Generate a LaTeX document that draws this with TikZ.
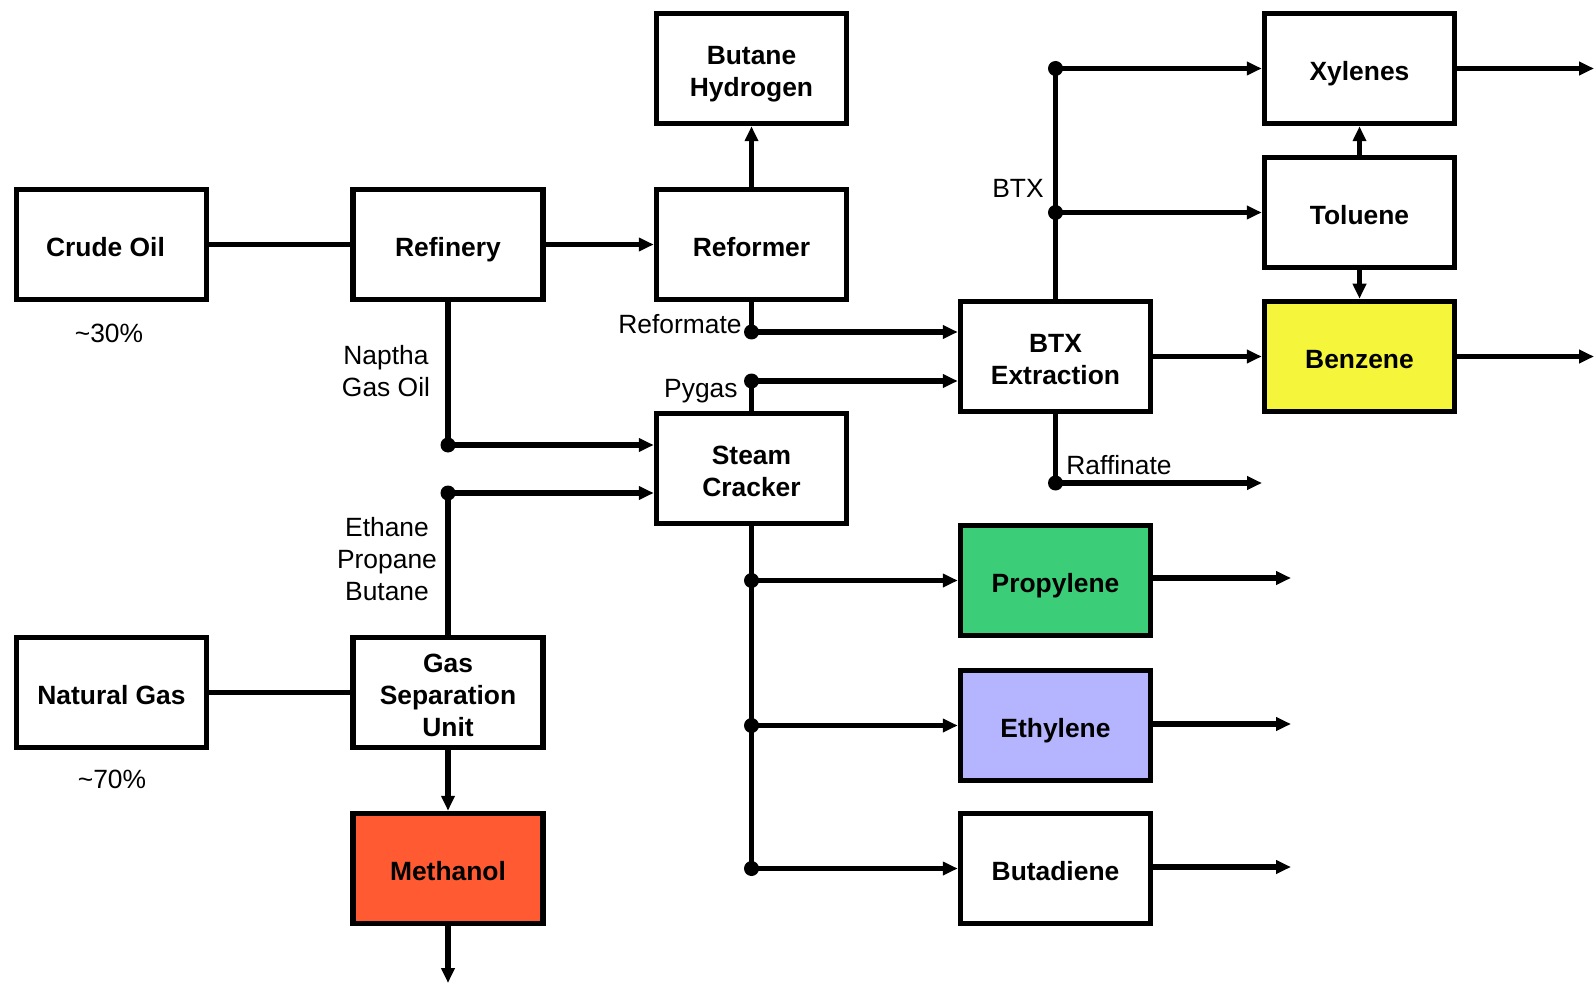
\documentclass[tikz,border=0pt]{standalone}
\usepackage{fontspec}
\setmainfont{Liberation Sans}
\usetikzlibrary{arrows.meta}
\definecolor{benzfill}{RGB}{245,245,60}
\definecolor{propfill}{RGB}{60,205,120}
\definecolor{ethfill}{RGB}{180,180,255}
\definecolor{methfill}{RGB}{255,90,50}
\newcommand{\toprl}{\rule{0pt}{15pt}}
\newcommand{\botrl}{\rule[-3pt]{0pt}{3pt}}
\begin{document}
\begin{tikzpicture}[x=0.5pt,y=-0.5pt,
  box/.style={draw, line width=2.75pt, minimum width=95pt, minimum height=55pt, align=center,
    font=\fontsize{13.2}{16}\selectfont\bfseries, inner sep=0pt},
  lbl/.style={font=\fontsize{13.2}{16}\selectfont, align=center, inner sep=0pt},
  conn/.style={line width=2.75pt},
  arr/.style={conn, -{Triangle[length=7.5pt,width=6.5pt]}},
  dot/.style={circle, fill, inner sep=0pt, minimum size=7.5pt}
]
\useasboundingbox (0,0) rectangle (1596,984);

% boxes
\node[box] (crude) at (111.5,244.5) {\toprl Crude Oil\hspace{6pt}\botrl};
\node[box] (refinery) at (448,244.5) {\toprl Refinery\botrl};
\node[box] (reformer) at (751.5,244.5) {\toprl Reformer\botrl};
\node[box] (butane) at (751.5,68.5) {\toprl Butane\\Hydrogen\botrl};
\node[box] (steam) at (751.5,468.5) {\toprl Steam\\Cracker\botrl};
\node[box] (btx) at (1055.5,356.5) {\toprl BTX\\Extraction\botrl};
\node[box] (xylenes) at (1359.5,68.5) {\toprl Xylenes\botrl};
\node[box] (toluene) at (1359.5,212.5) {\toprl Toluene\botrl};
\node[box, fill=benzfill] (benzene) at (1359.5,356.5) {\toprl Benzene\botrl};
\node[box, fill=propfill] (propylene) at (1055.5,580.5) {\toprl Propylene\botrl};
\node[box, fill=ethfill] (ethylene) at (1055.5,725.5) {\toprl Ethylene\botrl};
\node[box] (butadiene) at (1055.5,868.5) {\toprl Butadiene\botrl};
\node[box] (natgas) at (111.5,692.5) {\toprl Natural Gas\botrl};
\node[box] (gassep) at (448,692.5) {\toprl Gas\\Separation\\Unit\botrl};
\node[box, fill=methfill] (methanol) at (448,868.5) {\toprl Methanol\botrl};

% junction coordinates
\coordinate (jnap) at (refinery.south |- 0,445);
\coordinate (jeth) at (gassep.north |- 0,493);
\coordinate (jref) at (reformer.south |- 0,332);
\coordinate (jpyg) at (steam.north |- 0,381);
\coordinate (jxyl) at (btx.north |- xylenes.west);
\coordinate (jtol) at (btx.north |- toluene.west);
\coordinate (jraf) at (btx.south |- 0,483);
\coordinate (jprop) at (steam.south |- propylene.west);
\coordinate (jethy) at (steam.south |- ethylene.west);
\coordinate (jbut) at (steam.south |- butadiene.west);
\coordinate (outxyl) at (1594,68.5);
\coordinate (outbenz) at (1594,356.5);
\coordinate (outraf) at (1262,483);
\coordinate (outprop) at (1291,578);
\coordinate (outethy) at (1291,724);
\coordinate (outbut) at (1291,867);
\coordinate (outmeth) at (448,983);

% connectors
\draw[conn] (crude.east) -- (refinery.west);
\draw[arr] (refinery.east) -- (reformer.west);
\draw[arr] (reformer.north) -- (butane.south);
\draw[conn] (refinery.south) -- (jnap);
\draw[arr] (jnap) -- (jnap -| steam.west);
\draw[conn] (gassep.north) -- (jeth);
\draw[arr] (jeth) -- (jeth -| steam.west);
\draw[conn] (natgas.east) -- (gassep.west);
\draw[arr] (gassep.south) -- (methanol.north);
\draw[arr] (methanol.south) -- (outmeth);
\draw[conn] (reformer.south) -- (jref);
\draw[arr] (jref) -- (jref -| btx.west);
\draw[conn] (steam.north) -- (jpyg);
\draw[arr] (jpyg) -- (jpyg -| btx.west);
\draw[conn] (btx.north) -- (jxyl);
\draw[arr] (jxyl) -- (xylenes.west);
\draw[arr] (jtol) -- (toluene.west);
\draw[arr] (btx.east) -- (benzene.west);
\draw[arr] (benzene.east) -- (outbenz);
\draw[arr] (xylenes.east) -- (outxyl);
\draw[arr] (toluene.north) -- (xylenes.south);
\draw[arr] (toluene.south) -- (benzene.north);
\draw[conn] (btx.south) -- (jraf);
\draw[arr] (jraf) -- (outraf);
\draw[conn] (steam.south) -- (jbut);
\draw[arr] (jprop) -- (propylene.west);
\draw[arr] (jethy) -- (ethylene.west);
\draw[arr] (jbut) -- (butadiene.west);
\draw[arr] (propylene.east |- outprop) -- (outprop);
\draw[arr] (ethylene.east |- outethy) -- (outethy);
\draw[arr] (butadiene.east |- outbut) -- (outbut);

% dots
\node[dot] (dnap) at (jnap) {};
\node[dot] (deth) at (jeth) {};
\node[dot] (dref) at (jref) {};
\node[dot] (dpyg) at (jpyg) {};
\node[dot] (dxyl) at (jxyl) {};
\node[dot] (dtol) at (jtol) {};
\node[dot] (draf) at (jraf) {};
\node[dot] (dprop) at (jprop) {};
\node[dot] (dethy) at (jethy) {};
\node[dot] (dbut) at (jbut) {};

% labels
\node[lbl] (l30) at (109,333) {\textasciitilde30\%};
\node[lbl] (l70) at (112,779) {\textasciitilde70\%};
\node[lbl] (lnap) at (386,371) {Naptha\\Gas Oil};
\node[lbl] (leth) at (387,559) {Ethane\\Propane\\Butane};
\node[lbl, anchor=east] (lref) at (742,324) {Reformate};
\node[lbl, anchor=east] (lpyg) at (738,391) {Pygas};
\node[lbl, anchor=east] (lbtx) at (1044,188) {BTX};
\node[lbl, anchor=west] (lraf) at (1066,465) {Raffinate};
\end{tikzpicture}
\end{document}
